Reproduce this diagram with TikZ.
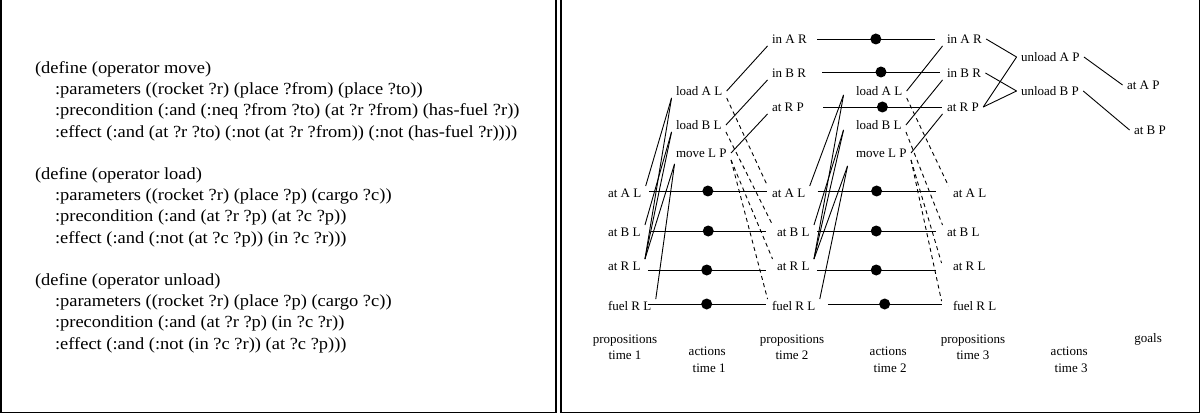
\documentclass[tikz,border=0pt]{standalone}
\usepackage{fontspec}
\setmainfont{Liberation Serif}
\newfontfamily\widetext[FakeStretch=1.085]{Liberation Serif}
\usetikzlibrary{calc}
\begin{document}
\begin{tikzpicture}[x=1pt,y=-1pt,line width=0.9pt,
  lbl/.style={font=\fontsize{13}{15.6}\selectfont,inner xsep=4pt,inner ysep=2pt,text height=9pt,text depth=0pt,anchor=text},
  capt/.style={font=\fontsize{13}{16.5}\selectfont,inner sep=0pt},
  dotn/.style={circle,fill=black,inner sep=0pt,minimum size=11pt},
  del/.style={dash pattern=on 4pt off 3.5pt},
  frame/.style={line width=1.8pt}]
\useasboundingbox (0,0) rectangle (1204,414);
% frames
\draw[frame] (1,0) -- (1,412.5) -- (556,412.5) -- (556,0);
\draw[frame] (561,0) -- (561,412.5) -- (1199.5,412.5) -- (1199.5,0);
% operator definitions
\node[anchor=north west,inner sep=0pt,align=left,font=\widetext\fontsize{17}{21.2}\selectfont] (ops) at (34.6,61) {%
(define (operator move)\\
\hspace*{20pt}:parameters ((rocket ?r) (place ?from) (place ?to))\\
\hspace*{20pt}:precondition (:and (:neq ?from ?to) (at ?r ?from) (has-fuel ?r))\\
\hspace*{20pt}:effect (:and (at ?r ?to) (:not (at ?r ?from)) (:not (has-fuel ?r))))\\[21.2pt]
(define (operator load)\\
\hspace*{20pt}:parameters ((rocket ?r) (place ?p) (cargo ?c))\\
\hspace*{20pt}:precondition (:and (at ?r ?p) (at ?c ?p))\\
\hspace*{20pt}:effect (:and (:not (at ?c ?p)) (in ?c ?r)))\\[21.2pt]
(define (operator unload)\\
\hspace*{20pt}:parameters ((rocket ?r) (place ?p) (cargo ?c))\\
\hspace*{20pt}:precondition (:and (at ?r ?p) (in ?c ?r))\\
\hspace*{20pt}:effect (:and (:not (in ?c ?r)) (at ?c ?p)))};
% propositions time 1
\node[lbl] (aL1) at (608,197.5) {at A L};
\node[lbl] (bL1) at (608,236.5) {at B L};
\node[lbl] (rL1) at (608,270.5) {at R L};
\node[lbl] (fL1) at (608,310.5) {fuel R L};
% actions time 1
\node[lbl] (la1) at (676,95.5) {load A L};
\node[lbl] (lb1) at (676,129.5) {load B L};
\node[lbl] (mv1) at (676,157.5) {move L P};
% propositions time 2
\node[lbl] (iA2) at (772,43.5) {in A R};
\node[lbl] (iB2) at (772,77.5) {in B R};
\node[lbl] (RP2) at (772,111.5) {at R P};
\node[lbl] (aL2) at (772,197.5) {at A L};
\node[lbl] (bL2) at (777,236.5) {at B L};
\node[lbl] (rL2) at (777,270.5) {at R L};
\node[lbl] (fL2) at (772,310.5) {fuel R L};
% actions time 2
\node[lbl] (la2) at (856,95.5) {load A L};
\node[lbl] (lb2) at (856,129.5) {load B L};
\node[lbl] (mv2) at (856,157.5) {move L P};
% propositions time 3
\node[lbl] (iA3) at (947,43.5) {in A R};
\node[lbl] (iB3) at (947,77.5) {in B R};
\node[lbl] (RP3) at (947,111.5) {at R P};
\node[lbl] (aL3) at (953,197.5) {at A L};
\node[lbl] (bL3) at (947,236.5) {at B L};
\node[lbl] (rL3) at (953,270.5) {at R L};
\node[lbl] (fL3) at (953,310.5) {fuel R L};
% actions time 3
\node[lbl] (uA) at (1021,61.5) {unload A P};
\node[lbl] (uB) at (1021,95.5) {unload B P};
% goals
\node[lbl] (gA) at (1127,89.5) {at A P};
\node[lbl] (gB) at (1134,134.5) {at B P};
% captions
\node[capt,align=center,anchor=north] (cp1) at (625,334) {propositions\\time 1};
\node[capt,align=right,anchor=north east] (ca1) at (726,346.6) {actions\\time 1};
\node[capt,align=center,anchor=north] (cp2) at (792,334) {propositions\\time 2};
\node[capt,align=right,anchor=north east] (ca2) at (907,346.6) {actions\\time 2};
\node[capt,align=center,anchor=north] (cp3) at (973,334) {propositions\\time 3};
\node[capt,align=right,anchor=north east] (ca3) at (1088,346.6) {actions\\time 3};
\node[capt,anchor=base west] (goals) at (1134,342) {goals};
% ports
\coordinate (mv1p) at ($(mv1.south west)+(3,4)$);
\coordinate (la2p) at ($(la2.south west)+(-8,-3)$);
\coordinate (lb2p) at ($(lb2.south west)+(-8,-2)$);
\coordinate (mv2p) at ($(mv2.south west)+(-4,6)$);
% no-op lines time 1 -> 2
\draw ($(aL1.east)+(3.5,-2)$) -- node[dotn]{} ($(aL2.west)+(-1,-2)$);
\draw ($(bL1.east)+(6,-1)$) -- node[dotn]{} ($(bL2.west)+(-7,-1)$);
\draw ($(rL1.east)+(3,4)$) -- node[dotn]{} ($(rL2.west)+(-7,4)$);
\draw ($(fL1.east)+(-8,-2)$) -- node[dotn]{} ($(fL2.west)+(-2,-2)$);
% no-op lines time 2 -> 3
\draw ($(iA2.east)+(6,0)$) -- node[dotn]{} ($(iA3.west)+(-8,0)$);
\draw ($(iB2.east)+(12,-1)$) -- node[dotn]{} ($(iB3.west)+(-3,-1)$);
\draw ($(RP2.east)+(15,0)$) -- node[dotn]{} ($(RP3.west)+(-1,0)$);
\draw ($(aL2.east)+(8,-2)$) -- node[dotn]{} ($(aL3.west)+(-13,-2)$);
\draw ($(bL2.east)+(3,-1)$) -- node[dotn]{} ($(bL3.west)+(-7,-1)$);
\draw ($(rL2.east)+(3,4)$) -- node[dotn]{} ($(rL3.west)+(-13,4)$);
\draw ($(fL2.east)+(8,-2)$) -- node[dotn]{} ($(fL3.west)+(-7,-2)$);
% preconditions time 1
\draw (aL1.north east) -- (la1.south west);
\draw (rL1.north east) -- (la1.south west);
\draw (bL1.north east) -- (lb1.south west);
\draw (rL1.north east) -- (lb1.south west);
\draw (rL1.north east) -- (mv1p);
\draw (fL1.north east) -- (mv1p);
% effects time 1
\draw (la1.east) -- (iA2.south west);
\draw (lb1.east) -- (iB2.south west);
\draw (mv1.east) -- (RP2.south west);
\draw[del] (la1.south east) -- (aL2.north west);
\draw[del] (lb1.south east) -- (bL2.north west);
\draw[del] (mv1.south east) -- (rL2.north west);
\draw[del] (mv1.south east) -- (fL2.north west);
% preconditions time 2
\draw (aL2.north east) -- (la2p);
\draw (rL2.north east) -- (la2p);
\draw (bL2.north east) -- (lb2p);
\draw (rL2.north east) -- (lb2p);
\draw (rL2.north east) -- (mv2p);
\draw (fL2.north east) -- (mv2p);
% effects time 2
\draw (la2.east) -- (iA3.south west);
\draw (lb2.east) -- (iB3.south west);
\draw (mv2.east) -- (RP3.south west);
\draw[del] (la2.south east) -- (aL3.north west);
\draw[del] (lb2.south east) -- (bL3.north west);
\draw[del] (mv2.south east) -- ($(rL3.north west)+(-7,4)$);
\draw[del] (mv2.south east) -- ($(fL3.north west)+(-7,2)$);
% preconditions time 3
\draw (iA3.east) -- (uA.west);
\draw (RP3.east) -- (uA.west);
\draw (iB3.east) -- (uB.west);
\draw (RP3.east) -- (uB.west);
% effects time 3
\draw (uA.east) -- (gA.west);
\draw (uB.east) -- (gB.west);
\end{tikzpicture}
\end{document}
